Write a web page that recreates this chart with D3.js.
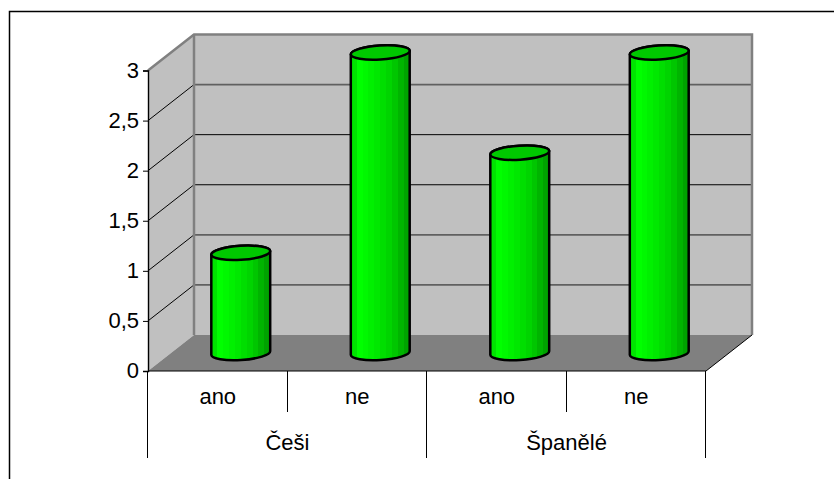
<!DOCTYPE html>
<html>
<head>
<meta charset="utf-8">
<script src="https://cdn.jsdelivr.net/npm/d3@7"></script>
<style>
html,body{margin:0;padding:0;background:#fff}
svg{display:block}
text{font-family:"Liberation Sans",Arial,sans-serif;fill:#000}
</style>
</head>
<body>
<svg id="chart" width="834" height="479"></svg>
<script>
// Answer counts by nationality
const groups = ["Češi", "Španělé"];
const categories = ["ano", "ne", "ano", "ne"];
const groupOf = [0, 0, 1, 1];
const values = [1, 3, 2, 3];
const tickValues = [0, 0.5, 1, 1.5, 2, 2.5, 3];
const thinGridValues = [1.5, 2];

const W = 834, H = 479;
const floorLeft = 148, floorRight = 706, floorY = 371, topY = 70.5;
const depthX = 46, depthY = 36;      // oblique offset of the back wall
const barWidth = 59, capRy = 7, capTilt = -3.6;
const labelSize = 22;

const svg = d3.select("#chart");
const x = d3.scaleBand().domain(d3.range(values.length)).range([floorLeft, floorRight]);
const y = d3.scaleLinear().domain([0, 3]).range([floorY, topY]);

// Chart frame: only top and left edges fall inside the page
svg.append("path").attr("d", `M9.5,${H}V11.5H${W}`).attr("fill", "none").attr("stroke", "#000").attr("stroke-width", 1.5);

// Walls and floor
const wallStroke = "#808080";
svg.append("path")
  .attr("d", `M${floorLeft},${y(3)}L${floorLeft + depthX},${y(3) - depthY}V${floorY - depthY}L${floorLeft},${floorY}Z`)
  .attr("fill", "#c0c0c0");
svg.append("rect")
  .attr("x", floorLeft + depthX).attr("y", y(3) - depthY)
  .attr("width", floorRight - floorLeft).attr("height", floorY - topY)
  .attr("fill", "#c0c0c0");
svg.append("path")
  .attr("d", `M${floorLeft},${floorY}L${floorLeft + depthX},${floorY - depthY}H${floorRight + depthX}L${floorRight},${floorY}Z`)
  .attr("fill", "#808080");

// Gridlines running along the side wall and across the back wall
const inner = tickValues.filter(v => v > 0 && v < 3);
const isThin = v => thinGridValues.includes(v);
svg.selectAll("line.side").data(inner).join("line").attr("class", "side")
  .attr("x1", floorLeft).attr("y1", d => y(d))
  .attr("x2", floorLeft + depthX).attr("y2", d => y(d) - depthY)
  .attr("stroke", "#000").attr("stroke-width", 1);
svg.selectAll("line.back").data(inner).join("line").attr("class", "back")
  .attr("x1", floorLeft + depthX).attr("y1", d => y(d) - depthY)
  .attr("x2", floorRight + depthX).attr("y2", d => y(d) - depthY)
  .attr("stroke", d => isThin(d) ? "#000" : "#606060")
  .attr("stroke-width", d => isThin(d) ? 1 : 1.8);

// Grey outline of the back wall
svg.append("path")
  .attr("d", `M${floorLeft},${y(3)}L${floorLeft + depthX},${y(3) - depthY}H${floorRight + depthX}V${floorY - depthY}`)
  .attr("fill", "none").attr("stroke", wallStroke).attr("stroke-width", 2.5);
svg.append("line")
  .attr("x1", floorLeft + depthX).attr("x2", floorLeft + depthX)
  .attr("y1", y(3) - depthY).attr("y2", floorY - depthY)
  .attr("stroke", wallStroke).attr("stroke-width", 2.5);
svg.append("line")
  .attr("x1", floorRight).attr("y1", floorY)
  .attr("x2", floorRight + depthX).attr("y2", floorY - depthY)
  .attr("stroke", "#000");

// Cylinder shading, stepped across the width
const shades = ["#00e400", "#00ff00", "#00f800", "#00f000", "#00e800", "#00de00", "#00d400", "#00c600", "#00b400", "#00a200"];
const grad = svg.append("defs").append("linearGradient").attr("id", "cyl");
d3.range(shades.length).forEach(i => {
  grad.append("stop").attr("offset", i / shades.length).attr("stop-color", shades[i]);
  grad.append("stop").attr("offset", (i + 1) / shades.length).attr("stop-color", shades[i]);
});

// Bars as tilted cylinders standing midway across the floor depth
const rad = capTilt * Math.PI / 180;
const bars = svg.selectAll("g.bar").data(values).join("g").attr("class", "bar");
bars.each(function (d, i) {
  const g = d3.select(this);
  const rx = barWidth / 2;
  const cx = x(i) + x.bandwidth() / 2 + depthX / 2;
  const base = y(0) - depthY / 2;
  const top = y(d) - depthY / 2;
  const dx = rx * Math.cos(rad), dy = rx * Math.sin(rad);
  g.append("path")
    .attr("d", `M${cx - dx},${top - dy}L${cx - dx},${base - dy}` +
      `A${rx},${capRy} ${capTilt} 0 0 ${cx + dx},${base + dy}` +
      `L${cx + dx},${top + dy}A${rx},${capRy} ${capTilt} 0 0 ${cx - dx},${top - dy}Z`)
    .attr("fill", "url(#cyl)").attr("stroke", "#000").attr("stroke-width", 2.5).attr("stroke-linejoin", "round");
  g.append("ellipse")
    .attr("rx", rx).attr("ry", capRy)
    .attr("transform", `translate(${cx},${top}) rotate(${capTilt})`)
    .attr("fill", "#00c800").attr("stroke", "#000").attr("stroke-width", 2.5);
});

// Value axis with decimal commas
const fmt = v => String(v).replace(".", ",");
const axis = d3.axisLeft(y).tickValues(tickValues).tickSize(5).tickPadding(4).tickFormat(fmt);
const ag = svg.append("g").attr("transform", `translate(${floorLeft},0)`).call(axis);
ag.select(".domain").attr("stroke", "#000").attr("stroke-width", 1.4);
ag.selectAll("text").attr("font-size", labelSize).attr("dy", "0.3em")
  .style("font-family", '"Liberation Sans",Arial,sans-serif');

// Floor edge and two-level category dividers
svg.append("line").attr("x1", floorLeft).attr("x2", floorRight).attr("y1", floorY).attr("y2", floorY).attr("stroke", "#000").attr("stroke-width", 1.2);
const dividerShort = 412, dividerLong = 458;
const edges = d3.range(values.length + 1).map(i => i < values.length ? x(i) : floorRight);
svg.selectAll("line.div").data(edges).join("line").attr("class", "div")
  .attr("x1", d => Math.round(d) - 0.5).attr("x2", d => Math.round(d) - 0.5)
  .attr("y1", floorY).attr("y2", (d, i) => i % 2 ? dividerShort : dividerLong)
  .attr("stroke", "#000");

svg.selectAll("text.cat").data(categories).join("text").attr("class", "cat")
  .attr("x", (d, i) => x(i) + x.bandwidth() / 2).attr("y", 404)
  .attr("text-anchor", "middle").attr("font-size", labelSize).text(d => d);
svg.selectAll("text.grp").data(groups).join("text").attr("class", "grp")
  .attr("x", (d, g) => {
    const idx = d3.range(values.length).filter(i => groupOf[i] === g);
    return (x(idx[0]) + x(idx[idx.length - 1]) + x.bandwidth()) / 2;
  }).attr("y", 450)
  .attr("text-anchor", "middle").attr("font-size", labelSize).text(d => d);
</script>
</body>
</html>
